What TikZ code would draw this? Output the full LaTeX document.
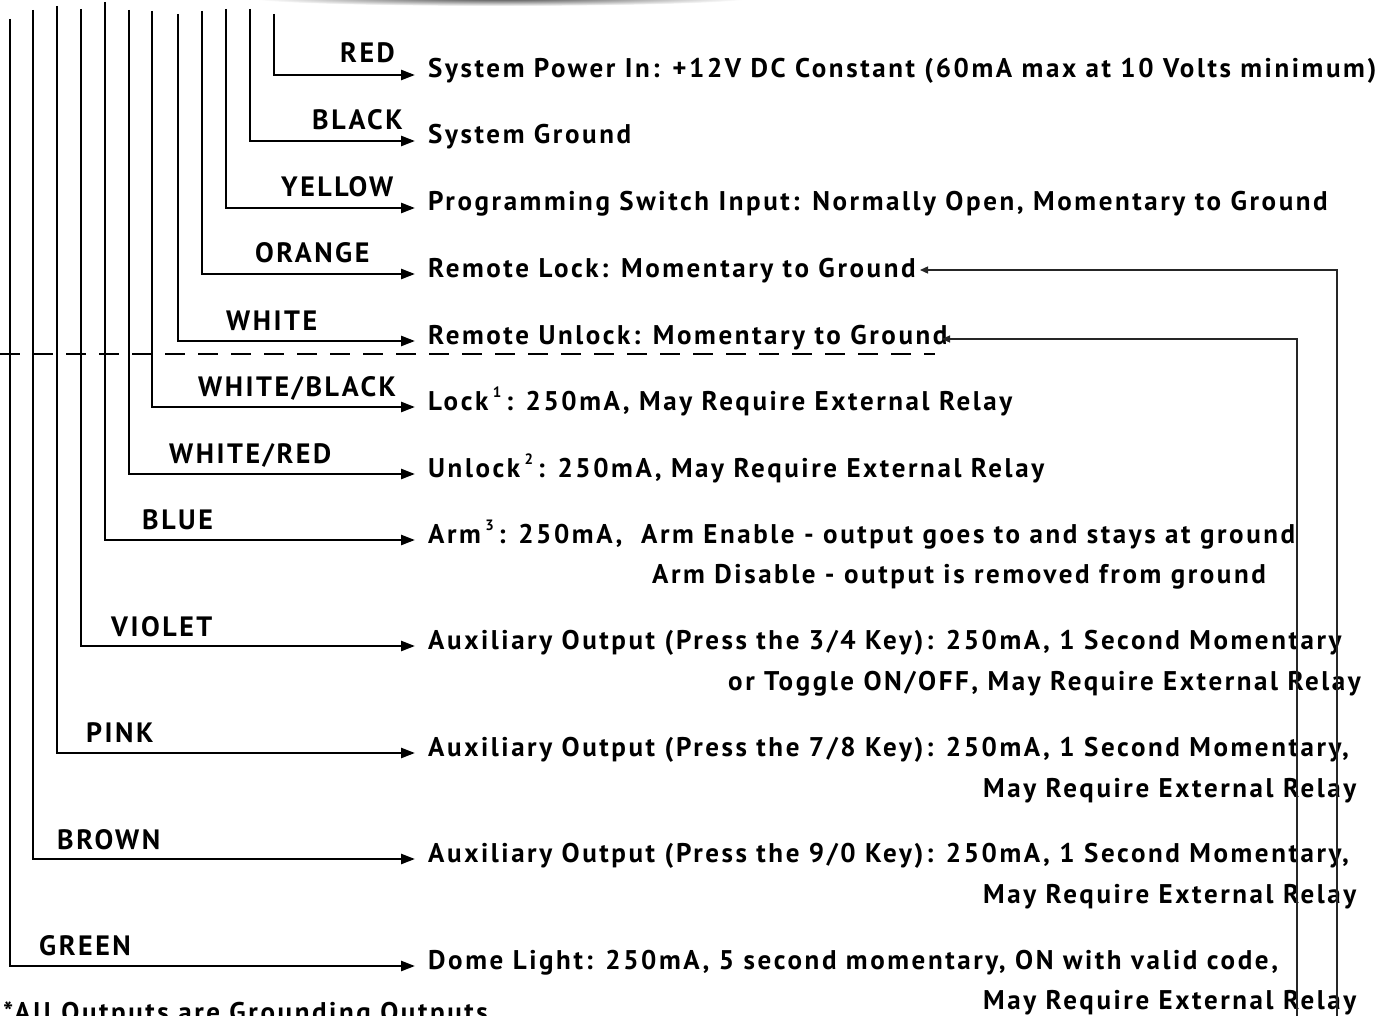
\documentclass[tikz,border=0pt]{standalone}
\usepackage{fontspec}
\setmainfont{PT Sans}
\newfontfamily\descfont[LetterSpace=9.6]{PT Sans Bold}
\newfontfamily\labfont[LetterSpace=9]{PT Sans Bold}
\usetikzlibrary{arrows.meta}
\newcommand{\supn}[1]{\,\raisebox{13pt}{\fontsize{15}{15}\selectfont #1}\,}
\begin{document}
\begin{tikzpicture}[x=1pt,y=-1pt,
  wire/.style={line width=2.5pt,-{Triangle[length=14pt,width=10pt]}},
  fb/.style={line width=1.3pt,draw=black!85,-{Triangle[length=8pt,width=7pt]}},
  desc/.style={anchor=base west,inner sep=0pt,font=\descfont\fontsize{27}{32}\selectfont},
  lab/.style={anchor=base west,inner sep=0pt,font=\labfont\fontsize{28}{32}\selectfont},
  sep/.style={line width=2pt,dash pattern=on 20pt off 13pt}]
\useasboundingbox (0,0) rectangle (1397,1016);
\clip (0,0) rectangle (1397,1016);
\fill[white] (0,0) rectangle (1397,1016);
\shade[inner color=black!75,outer color=white] (500,-2) ellipse (250 and 8);

% wires: top coordinate, arrow tip coordinate
\foreach \n/\x/\t/\y in {red/274/14/75, black/250/9/141, yellow/226/9/208, orange/202/11/274,
   white/178/14/341, wblack/152/11/407, wred/129/10/474, blue/105/2/540,
   violet/81/9/646, pink/57/6/753, brown/33/10/859, green/10/19/966}{
  \coordinate (t\n) at (\x,\t);
  \coordinate (a\n) at (415,\y);
}
\foreach \n in {red,black,yellow,orange,white,wblack,wred,blue,violet,pink,brown,green}{
  \draw[wire] (t\n) |- (a\n);
}

% separator
\coordinate (s0) at (0,354);
\coordinate (s1) at (935,354);
\draw[sep] (s0) -- (s1);

% labels
\node[lab] (lred) at (340,63) {RED};
\node[lab] (lblack) at (312,130) {BLACK};
\node[lab] (lyellow) at (281,197) {YELLOW};
\node[lab] (lorange) at (255,263) {ORANGE};
\node[lab] (lwhite) at (226,330) {WHITE};
\node[lab] (lwblack) at (198,396) {WHITE/BLACK};
\node[lab] (lwred) at (169,463) {WHITE/RED};
\node[lab] (lblue) at (142,529) {BLUE};
\node[lab] (lviolet) at (111,636) {VIOLET};
\node[lab] (lpink) at (86,742) {PINK};
\node[lab] (lbrown) at (57,849) {BROWN};
\node[lab] (lgreen) at (39,955) {GREEN};

% descriptions
\node[desc] (dred) at (428,78) {System Power In: +12V DC Constant (60mA max at 10 Volts minimum)};
\node[desc] (dblack) at (428,144) {System Ground};
\node[desc] (dyellow) at (428,211) {Programming Switch Input: Normally Open, Momentary to Ground};
\node[desc] (dorange) at (428,277) {Remote Lock: Momentary to Ground};
\node[desc] (dwhite) at (428,344) {Remote Unlock: Momentary to Ground};
\node[desc] (dwblack) at (428,410) {Lock\supn{1}: 250mA, May Require External Relay};
\node[desc] (dwred) at (428,477) {Unlock\supn{2}: 250mA, May Require External Relay};
\node[desc] (dblue) at (428,543) {Arm\supn{3}: 250mA,\ \ Arm Enable - output goes to and stays at ground};
\node[desc] (dblue2) at (652,583) {Arm Disable - output is removed from ground};
\node[desc] (dviolet) at (428,649) {Auxiliary Output (Press the 3/4 Key): 250mA, 1 Second Momentary};
\node[desc] (dviolet2) at (728,690) {or Toggle ON/OFF, May Require External Relay};
\node[desc] (dpink) at (428,756) {Auxiliary Output (Press the 7/8 Key): 250mA, 1 Second Momentary,};
\node[desc] (dpink2) at (983,797) {May Require External Relay};
\node[desc] (dbrown) at (428,862) {Auxiliary Output (Press the 9/0 Key): 250mA, 1 Second Momentary,};
\node[desc] (dbrown2) at (983,903) {May Require External Relay};
\node[desc] (dgreen) at (428,969) {Dome Light: 250mA, 5 second momentary, ON with valid code,};
\node[desc] (dgreen2) at (983,1009) {May Require External Relay};
\node[desc] (note) at (3,1021) {*All Outputs are Grounding Outputs};

% feedback lines
\coordinate (fo0) at (1337,1030);
\coordinate (fo1) at (1337,270);
\coordinate (fo2) at (920,270);
\draw[fb] (fo0) -- (fo1) -- (fo2);
\coordinate (fw0) at (1297,1030);
\coordinate (fw1) at (1297,339);
\coordinate (fw2) at (942,339);
\draw[fb] (fw0) -- (fw1) -- (fw2);
\end{tikzpicture}
\end{document}
